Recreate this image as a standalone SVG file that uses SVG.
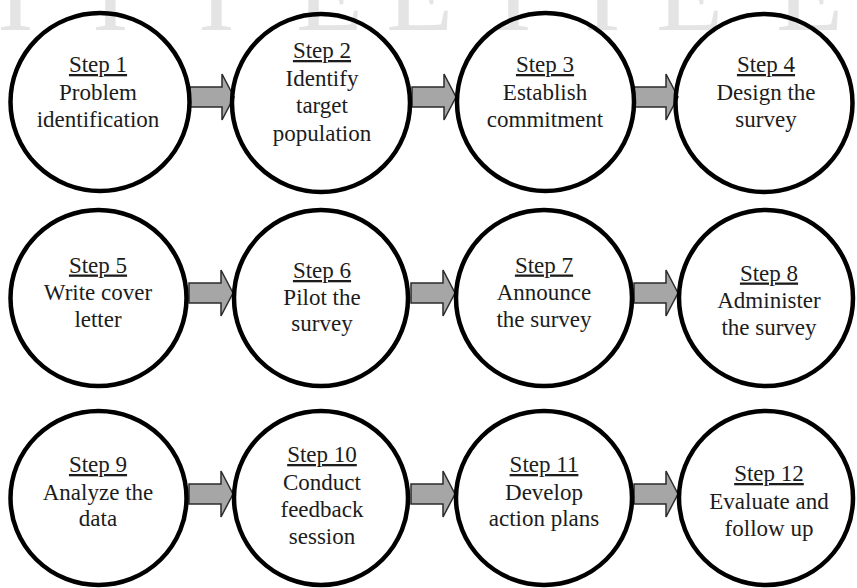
<svg xmlns="http://www.w3.org/2000/svg" width="857" height="588" viewBox="0 0 857 588">
  <defs>
    <style>
      .mark { font-family: "Liberation Serif", "Times New Roman", serif; font-size: 110px; fill: #e4e4e4; }
      .ring { fill: none; stroke: #000; stroke-width: 4.5; }
      .arrow { fill: #a6a6a6; stroke: #2b2b2b; stroke-width: 1.5; stroke-linejoin: miter; }
      .label { font-family: "Liberation Serif", "Times New Roman", serif; font-size: 23px; fill: #1c1c1c; text-anchor: middle; }
      .step { text-decoration: underline; }
    </style>
    <!-- block arrow, origin at the tail centre -->
    <path id="blockArrow" d="M0,-10 H32 V-23 L44,0 L32,23 V10 H0 Z"/>
  </defs>

  <rect width="857" height="588" fill="#fff"/>

  <!-- faint background lettering along the top edge -->
  <text class="mark" y="30">
    <tspan x="-3">I</tspan><tspan x="92">I</tspan><tspan x="198">I</tspan><tspan x="296">E</tspan><tspan x="386">E</tspan><tspan x="495">I</tspan><tspan x="584">I</tspan><tspan x="656">E</tspan><tspan x="776">E</tspan>
  </text>

  <!-- connectors -->
  <g id="connectors" class="arrow">
    <use href="#blockArrow" transform="translate(190,97)"/>
    <use href="#blockArrow" transform="translate(412,97)"/>
    <use href="#blockArrow" transform="translate(634,97)"/>
    <use href="#blockArrow" transform="translate(189,293)"/>
    <use href="#blockArrow" transform="translate(411,293)"/>
    <use href="#blockArrow" transform="translate(634,293)"/>
    <use href="#blockArrow" transform="translate(189,494)"/>
    <use href="#blockArrow" transform="translate(411,494)"/>
    <use href="#blockArrow" transform="translate(634,494)"/>
  </g>

  <!-- row 1 -->
  <g id="step1">
    <ellipse class="ring" cx="100" cy="102" rx="89.5" ry="89"/>
    <text class="label"><tspan class="step" x="98" y="72">Step 1</tspan><tspan x="98" y="99.5">Problem</tspan><tspan x="98" y="127">identification</tspan></text>
  </g>
  <g id="step2">
    <ellipse class="ring" cx="321" cy="103" rx="89" ry="89"/>
    <text class="label"><tspan class="step" x="322" y="58">Step 2</tspan><tspan x="322" y="85.5">Identify</tspan><tspan x="322" y="113">target</tspan><tspan x="322" y="140.5">population</tspan></text>
  </g>
  <g id="step3">
    <ellipse class="ring" cx="545.5" cy="102" rx="88.5" ry="89"/>
    <text class="label"><tspan class="step" x="545" y="72">Step 3</tspan><tspan x="545" y="99.5">Establish</tspan><tspan x="545" y="127">commitment</tspan></text>
  </g>
  <g id="step4">
    <ellipse class="ring" cx="764" cy="103" rx="88.5" ry="89"/>
    <text class="label"><tspan class="step" x="766" y="72">Step 4</tspan><tspan x="766" y="99.5">Design the</tspan><tspan x="766" y="127">survey</tspan></text>
  </g>

  <!-- row 2 -->
  <g id="step5">
    <ellipse class="ring" cx="98.5" cy="298" rx="88" ry="88"/>
    <text class="label"><tspan class="step" x="98" y="272.5">Step 5</tspan><tspan x="98" y="300">Write cover</tspan><tspan x="98" y="327">letter</tspan></text>
  </g>
  <g id="step6">
    <ellipse class="ring" cx="321" cy="298" rx="87" ry="88"/>
    <text class="label"><tspan class="step" x="322" y="278">Step 6</tspan><tspan x="322" y="305">Pilot the</tspan><tspan x="322" y="331">survey</tspan></text>
  </g>
  <g id="step7">
    <ellipse class="ring" cx="544" cy="298" rx="88" ry="88"/>
    <text class="label"><tspan class="step" x="544" y="272.5">Step 7</tspan><tspan x="544" y="300">Announce</tspan><tspan x="544" y="327">the survey</tspan></text>
  </g>
  <g id="step8">
    <ellipse class="ring" cx="766" cy="298" rx="87" ry="88"/>
    <text class="label"><tspan class="step" x="769" y="280.5">Step 8</tspan><tspan x="769" y="308">Administer</tspan><tspan x="769" y="335">the survey</tspan></text>
  </g>

  <!-- row 3 -->
  <g id="step9">
    <ellipse class="ring" cx="98.5" cy="498" rx="88" ry="87"/>
    <text class="label"><tspan class="step" x="98" y="472">Step 9</tspan><tspan x="98" y="499.5">Analyze the</tspan><tspan x="98" y="526">data</tspan></text>
  </g>
  <g id="step10">
    <ellipse class="ring" cx="321" cy="498" rx="87" ry="87"/>
    <text class="label"><tspan class="step" x="322" y="462">Step 10</tspan><tspan x="322" y="489.5">Conduct</tspan><tspan x="322" y="517">feedback</tspan><tspan x="322" y="544">session</tspan></text>
  </g>
  <g id="step11">
    <ellipse class="ring" cx="544" cy="498" rx="88" ry="87"/>
    <text class="label"><tspan class="step" x="544" y="472">Step 11</tspan><tspan x="544" y="499.5">Develop</tspan><tspan x="544" y="526">action plans</tspan></text>
  </g>
  <g id="step12">
    <ellipse class="ring" cx="766" cy="498" rx="87" ry="87"/>
    <text class="label"><tspan class="step" x="769" y="481">Step 12</tspan><tspan x="769" y="508.5">Evaluate and</tspan><tspan x="769" y="535.5">follow up</tspan></text>
  </g>
</svg>
